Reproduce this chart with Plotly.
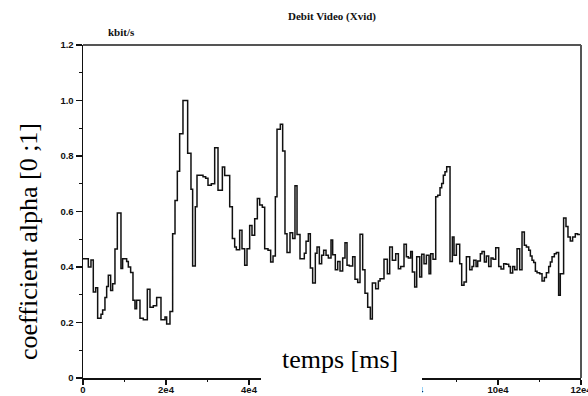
import plotly.graph_objects as go

# ---- data (time in ms, coefficient alpha) ----
time_ms = [0, 1280, 1920, 2480, 3050, 3530, 4330, 4730, 5290, 5700, 6100, 6660, 7140, 7700, 8270,
           9150, 9550, 10520, 10920, 11480, 12040, 12520, 12920, 13730, 14530, 15500, 16140, 16940,
           17750, 18790, 19760, 20160, 20960, 21600, 22170, 22730, 23290, 24090, 25220, 26020, 26420,
           27060, 27470, 28920, 29560, 30120, 30920, 31730, 32530, 33580, 34140, 35350, 35990, 36550,
           36950, 37750, 38310, 38960, 39520, 40160, 40720, 41370, 42010, 42570, 43210, 43780, 44580,
           45220, 45790, 46350, 46750, 47550, 48110, 48670, 49160, 49880, 50520, 51080, 51570, 52290,
           53330, 53740, 54300, 54780, 55340, 55980, 56390, 56950, 57510, 57990, 58560, 59120, 59760,
           60160, 60800, 61370, 61930, 62570, 63130, 63620, 64180, 64980, 65540, 66190, 66750, 67390,
           67950, 68600, 69240, 69720, 70520, 71170, 71570, 72530, 73340, 73900, 74540, 75350, 75990,
           76550, 77350, 77920, 78400, 78960, 79360, 79920, 80410, 81130, 81610, 82170, 82740, 83380,
           83780, 84340, 84990, 85470, 86030, 86430, 86830, 87230, 87640, 88440, 89000, 89400, 89970,
           90770, 91250, 91810, 92380, 93180, 93740, 94140, 94710, 95110, 95750, 96150, 96710, 97200,
           97760, 98320, 98800, 99450, 100170, 100730, 101370, 101940, 102580, 102980, 103540, 104020,
           104590, 105230, 105790, 106350, 106840, 107400, 107800, 108200, 108600, 109010, 109410,
           110050, 110610, 111170, 111660, 112220, 112620, 113020, 113580, 114070, 114610, 115010,
           115810, 116380, 116860, 117420, 117980, 118630, 119190, 120000]

alpha = [0.43, 0.40, 0.425, 0.31, 0.325, 0.215, 0.23, 0.245, 0.29, 0.33, 0.37, 0.315, 0.34, 0.465, 0.595,
         0.395, 0.43, 0.42, 0.40, 0.38, 0.28, 0.25, 0.28, 0.215, 0.21, 0.32, 0.255, 0.26,
         0.29, 0.21, 0.22, 0.195, 0.24, 0.52, 0.64, 0.745, 0.88, 1.0, 0.81, 0.68, 0.404,
         0.617, 0.731, 0.725, 0.72, 0.695, 0.70, 0.83, 0.677, 0.76, 0.73, 0.617, 0.503, 0.472,
         0.462, 0.532, 0.466, 0.406, 0.466, 0.55, 0.514, 0.574, 0.647, 0.623, 0.615, 0.466, 0.46,
         0.418, 0.44, 0.653, 0.896, 0.914, 0.818, 0.52, 0.452, 0.523, 0.503, 0.693, 0.517, 0.43,
         0.45, 0.493, 0.52, 0.396, 0.342, 0.45, 0.472, 0.412, 0.442, 0.46, 0.442, 0.432, 0.497,
         0.444, 0.39, 0.42, 0.386, 0.432, 0.487, 0.406, 0.404, 0.437, 0.356, 0.344, 0.518, 0.39,
         0.305, 0.255, 0.213, 0.342, 0.322, 0.35, 0.358, 0.428, 0.376, 0.472, 0.424, 0.448, 0.394,
         0.402, 0.482, 0.437, 0.432, 0.456, 0.382, 0.328, 0.437, 0.364, 0.446, 0.412, 0.442, 0.376,
         0.448, 0.428, 0.653, 0.659, 0.686, 0.701, 0.731, 0.743, 0.761, 0.42, 0.508, 0.442, 0.482,
         0.412, 0.334, 0.346, 0.437, 0.39, 0.402, 0.424, 0.402, 0.422, 0.448, 0.456, 0.418, 0.44,
         0.402, 0.432, 0.428, 0.469, 0.402, 0.393, 0.412, 0.41, 0.402, 0.378, 0.402, 0.39,
         0.466, 0.39, 0.526, 0.478, 0.472, 0.46, 0.44, 0.424, 0.416, 0.385, 0.379,
         0.376, 0.35, 0.362, 0.379, 0.402, 0.418, 0.437, 0.448, 0.452, 0.298, 0.376,
         0.577, 0.546, 0.508, 0.494, 0.508, 0.52, 0.517, 0.517]

x_tick_vals = [0, 20000, 40000, 60000, 80000, 100000, 120000]
x_tick_text = ["0", "2e4", "4e4", "6e4", "8e4", "10e4", "12e4"]
y_tick_vals = [0, 0.2, 0.4, 0.6, 0.8, 1.0, 1.2]
y_tick_text = ["0", "0.2", "0.4", "0.6", "0.8", "1.0", "1.2"]

chart_title = "Debit Video (Xvid)"
unit_label = "kbit/s"
x_label = "temps [ms]"
y_label = "coefficient alpha [0 ;1]"

assert len(time_ms) == len(alpha)

W, H = 588, 396
ML, MR, MT, MB = 83, 7, 45, 18
PW, PH = W - ML - MR, H - MT - MB


def px(xp):
    return (xp - ML) / PW


def py(yp):
    return (H - MB - yp) / PH


fig = go.Figure()
fig.add_trace(go.Scatter(
    x=time_ms, y=alpha, mode="lines", line_shape="hv",
    line=dict(color="#111111", width=1.5), showlegend=False, hoverinfo="skip"))

tickfont = dict(family="Liberation Sans", size=9.5, color="#111111", weight="bold")

fig.update_layout(
    width=W, height=H, autosize=False,
    margin=dict(l=ML, r=MR, t=MT, b=MB, pad=0, autoexpand=False),
    paper_bgcolor="white", plot_bgcolor="white",
    xaxis=dict(range=[0, 120000], tickvals=x_tick_vals, ticktext=x_tick_text,
               showgrid=False, zeroline=False, showline=True, linecolor="#111111", linewidth=1.5,
               ticks="outside", ticklen=5, tickwidth=1.2, tickcolor="#111111", tickfont=tickfont,
               ticklabeloverflow="allow", automargin=False, ticklabelstandoff=-3,
               minor=dict(dtick=10000, tick0=0, ticks="outside", ticklen=2, tickwidth=1.2,
                          tickcolor="#111111", showgrid=False),
               fixedrange=True),
    yaxis=dict(range=[0, 1.2], tickvals=y_tick_vals, ticktext=y_tick_text,
               showgrid=False, zeroline=False, showline=True, linecolor="#111111", linewidth=1.5,
               ticks="outside", ticklen=6, tickwidth=1.2, tickcolor="#111111", tickfont=tickfont,
               ticklabeloverflow="allow", automargin=False,
               minor=dict(dtick=0.1, tick0=0, ticks="outside", ticklen=3, tickwidth=1.2,
                          tickcolor="#111111", showgrid=False),
               fixedrange=True),
)

# top and right frame (grey)
fig.add_shape(type="line", xref="paper", yref="paper", x0=0, x1=1, y0=1, y1=1,
              line=dict(color="#555555", width=2), layer="above")
fig.add_shape(type="line", xref="paper", yref="paper", x0=1, x1=1, y0=0, y1=1,
              line=dict(color="#555555", width=2), layer="above")

# white box behind the x label
fig.add_shape(type="rect", xref="paper", yref="paper", x0=px(261), x1=px(422), y0=py(400), y1=py(338),
              fillcolor="white", line=dict(width=0), layer="above")

serif = "Liberation Serif"
fig.add_annotation(text=x_label, xref="paper", yref="paper", x=px(340), y=py(359),
                   xanchor="center", yanchor="middle", showarrow=False,
                   font=dict(family=serif, size=26, color="#000000"))
fig.add_annotation(text=y_label, xref="paper", yref="paper", x=px(28), y=py(242),
                   xanchor="center", yanchor="middle", textangle=-90, showarrow=False,
                   font=dict(family=serif, size=26, color="#000000"))
fig.add_annotation(text="<b>" + chart_title + "</b>", xref="paper", yref="paper", x=px(332), y=py(16),
                   xanchor="center", yanchor="middle", showarrow=False,
                   font=dict(family=serif, size=11, color="#111111"))
fig.add_annotation(text="<b>" + unit_label + "</b>", xref="paper", yref="paper", x=px(121), y=py(32),
                   xanchor="center", yanchor="middle", showarrow=False,
                   font=dict(family=serif, size=11, color="#111111"))

fig.write_html("out.html", config={"displayModeBar": False, "staticPlot": True})
